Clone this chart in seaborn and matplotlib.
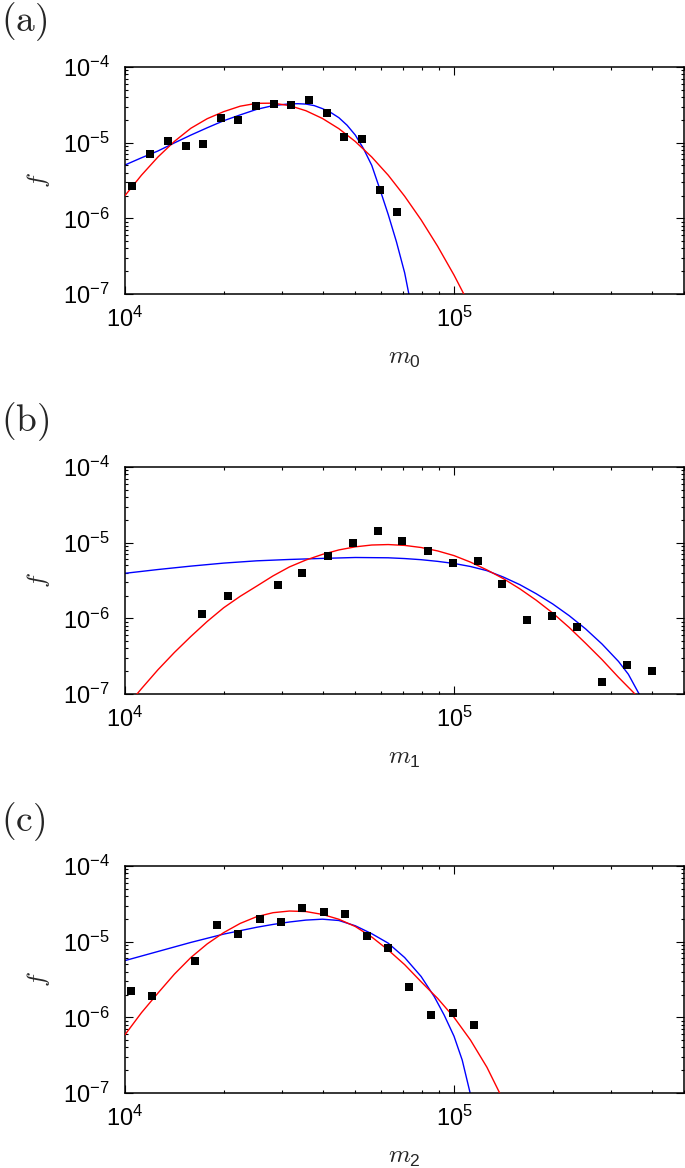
import numpy as np
import matplotlib
matplotlib.use("Agg")
import matplotlib.pyplot as plt
import seaborn as sns
from matplotlib.ticker import FixedLocator, FixedFormatter, LogLocator, NullFormatter

# ---------------- data ----------------
panel_tags = ["(a)", "(b)", "(c)"]
x_names = ["0", "1", "2"]

x_major = [1e4, 1e5]
x_major_labels = [r"$\mathregular{10^{4}}$", r"$\mathregular{10^{5}}$"]
y_major = [1e-7, 1e-6, 1e-5, 1e-4]
y_major_labels = [r"$\mathregular{10^{-7}}$", r"$\mathregular{10^{-6}}$",
                  r"$\mathregular{10^{-5}}$", r"$\mathregular{10^{-4}}$"]

# panel (a)
m0 = [1.048e4, 1.19e4, 1.352e4, 1.528e4, 1.727e4, 1.959e4, 2.21e4, 2.506e4,
      2.835e4, 3.206e4, 3.63e4, 4.11e4, 4.64e4, 5.25e4, 5.96e4, 6.73e4]
f0 = [2.67e-6, 7.0e-6, 1.04e-5, 9.1e-6, 9.7e-6, 2.12e-5, 2.0e-5, 3.05e-5,
      3.22e-5, 3.18e-5, 3.67e-5, 2.47e-5, 1.19e-5, 1.11e-5, 2.34e-6, 1.22e-6]
red0_x = [1.0e4, 1.122e4, 1.259e4, 1.413e4, 1.585e4, 1.778e4, 1.995e4, 2.239e4,
          2.512e4, 2.818e4, 3.162e4, 3.548e4, 3.981e4, 4.467e4, 5.012e4, 5.623e4,
          6.310e4, 7.079e4, 7.943e4, 8.913e4, 1.0e5, 1.122e5, 1.259e5]
red0_y = [2.0e-6, 3.715e-6, 6.46e-6, 1.040e-5, 1.549e-5, 2.075e-5, 2.570e-5, 3.034e-5,
          3.311e-5, 3.327e-5, 3.090e-5, 2.642e-5, 2.089e-5, 1.531e-5, 1.035e-5, 6.457e-6,
          3.715e-6, 1.959e-6, 9.55e-7, 4.285e-7, 1.778e-7, 6.761e-8, 2.40e-8]
blue0_x = [1.0e4, 1.122e4, 1.259e4, 1.413e4, 1.585e4, 1.778e4, 1.995e4, 2.239e4,
           2.512e4, 2.818e4, 3.162e4, 3.350e4, 3.548e4, 3.758e4, 3.981e4, 4.217e4,
           4.467e4, 4.732e4, 5.012e4, 5.309e4, 5.623e4, 5.957e4, 6.310e4, 6.683e4,
           7.079e4, 7.328e4, 7.586e4]
blue0_y = [5.07e-6, 6.31e-6, 7.76e-6, 9.93e-6, 1.259e-5, 1.574e-5, 1.950e-5, 2.328e-5,
           2.754e-5, 3.090e-5, 3.258e-5, 3.273e-5, 3.236e-5, 3.09e-5, 2.818e-5, 2.512e-5,
           2.138e-5, 1.698e-5, 1.259e-5, 8.32e-6, 5.01e-6, 2.399e-6, 1.122e-6, 4.898e-7,
           1.905e-7, 8.91e-8, 3.98e-8]

# panel (b)
m1 = [1.72e4, 2.05e4, 2.91e4, 3.46e4, 4.13e4, 4.92e4, 5.86e4, 6.97e4, 8.32e4,
      9.9e4, 1.18e5, 1.40e5, 1.67e5, 1.99e5, 2.37e5, 2.82e5, 3.35e5, 3.99e5]
f1 = [1.15e-6, 1.95e-6, 2.73e-6, 4.0e-6, 6.73e-6, 1.0e-5, 1.44e-5, 1.04e-5, 7.8e-6,
      5.43e-6, 5.73e-6, 2.84e-6, 9.5e-7, 1.09e-6, 7.6e-7, 1.42e-7, 2.39e-7, 1.99e-7]
red1_x = [1.0e4, 1.122e4, 1.259e4, 1.413e4, 1.585e4, 1.778e4, 1.995e4, 2.239e4,
          2.512e4, 2.818e4, 3.162e4, 3.548e4, 3.981e4, 4.467e4, 5.012e4, 5.623e4,
          6.310e4, 7.079e4, 7.943e4, 8.913e4, 1.0e5, 1.122e5, 1.259e5, 1.413e5,
          1.585e5, 1.778e5, 1.995e5, 2.239e5, 2.512e5, 2.818e5, 3.162e5, 3.548e5,
          3.981e5]
red1_y = [6.46e-8, 1.175e-7, 2.089e-7, 3.54e-7, 5.754e-7, 9.10e-7, 1.380e-6, 1.954e-6,
          2.661e-6, 3.639e-6, 4.786e-6, 5.902e-6, 6.998e-6, 8.017e-6, 8.81e-6, 9.31e-6,
          9.44e-6, 9.20e-6, 8.63e-6, 7.78e-6, 6.745e-6, 5.534e-6, 4.365e-6, 3.342e-6,
          2.455e-6, 1.734e-6, 1.175e-6, 7.568e-7, 4.677e-7, 2.844e-7, 1.660e-7, 1.0e-7,
          5.01e-8]
blue1_x = [1.0e4, 1.259e4, 1.585e4, 1.995e4, 2.512e4, 3.162e4, 3.981e4, 5.012e4,
           6.310e4, 7.079e4, 7.943e4, 8.913e4, 1.0e5, 1.122e5, 1.259e5, 1.413e5,
           1.585e5, 1.778e5, 1.995e5, 2.239e5, 2.512e5, 2.818e5, 3.162e5, 3.388e5,
           3.631e5, 3.802e5]
blue1_y = [3.936e-6, 4.416e-6, 4.898e-6, 5.370e-6, 5.754e-6, 5.998e-6, 6.194e-6, 6.368e-6,
           6.310e-6, 6.166e-6, 5.957e-6, 5.662e-6, 5.309e-6, 4.842e-6, 4.266e-6, 3.508e-6,
           2.786e-6, 2.113e-6, 1.549e-6, 1.084e-6, 7.244e-7, 4.571e-7, 2.692e-7, 1.820e-7,
           1.047e-7, 7.586e-8]

# panel (c)
m2 = [1.04e4, 1.207e4, 1.633e4, 1.90e4, 2.205e4, 2.564e4, 2.984e4, 3.454e4,
      4.027e4, 4.665e4, 5.437e4, 6.31e4, 7.32e4, 8.54e4, 9.91e4, 1.15e5]
f2 = [2.23e-6, 1.91e-6, 5.61e-6, 1.68e-5, 1.25e-5, 2.01e-5, 1.82e-5, 2.77e-5,
      2.49e-5, 2.32e-5, 1.2e-5, 8.26e-6, 2.49e-6, 1.06e-6, 1.15e-6, 7.83e-7]
red2_x = [1.0e4, 1.122e4, 1.259e4, 1.413e4, 1.585e4, 1.778e4, 1.995e4, 2.239e4,
          2.512e4, 2.818e4, 3.162e4, 3.548e4, 3.981e4, 4.467e4, 5.012e4, 5.623e4,
          6.310e4, 7.079e4, 7.943e4, 8.913e4, 1.0e5, 1.122e5, 1.259e5, 1.413e5]
red2_y = [5.888e-7, 1.151e-6, 2.089e-6, 3.724e-6, 6.166e-6, 9.35e-6, 1.318e-5, 1.742e-5,
          2.138e-5, 2.415e-5, 2.541e-5, 2.500e-5, 2.291e-5, 1.977e-5, 1.585e-5, 1.151e-5,
          7.762e-6, 4.966e-6, 2.951e-6, 1.782e-6, 1.0e-6, 5.01e-7, 2.188e-7, 7.94e-8]
blue2_x = [1.0e4, 1.259e4, 1.585e4, 1.995e4, 2.512e4, 2.818e4, 3.162e4, 3.548e4,
           3.981e4, 4.467e4, 5.012e4, 5.623e4, 6.310e4, 7.079e4, 7.943e4, 8.710e4,
           9.333e4, 1.0e5, 1.059e5, 1.117e5, 1.148e5]
blue2_y = [5.623e-6, 7.413e-6, 9.772e-6, 1.259e-5, 1.549e-5, 1.690e-5, 1.820e-5, 1.928e-5,
           1.982e-5, 1.905e-5, 1.622e-5, 1.274e-5, 9.55e-6, 6.166e-6, 3.467e-6, 1.875e-6,
           1.072e-6, 5.623e-7, 2.723e-7, 1.038e-7, 5.623e-8]

panels = [
    (m0, f0, red0_x, red0_y, blue0_x, blue0_y),
    (m1, f1, red1_x, red1_y, blue1_x, blue1_y),
    (m2, f2, red2_x, red2_y, blue2_x, blue2_y),
]

# ---------------- style ----------------
sns.set_style("ticks")
plt.rcParams["font.family"] = ["Liberation Sans", "DejaVu Sans"]
plt.rcParams["mathtext.fontset"] = "cm"
plt.rcParams["axes.unicode_minus"] = False

W, H = 685, 1168
fig = plt.figure(figsize=(W / 100, H / 100), dpi=100)

ax_left, ax_right = 125, 684
ax_tops = [67, 467, 866]
ax_h = 227
tag_tops = [0, 400, 800]

for i, (mx, fy, rx, ry, bx, by) in enumerate(panels):
    top = ax_tops[i]
    ax = fig.add_axes([ax_left / W, 1 - (top + ax_h) / H,
                       (ax_right - ax_left) / W, ax_h / H])
    ax.set_xscale("log")
    ax.set_yscale("log")

    sns.lineplot(x=bx, y=by, ax=ax, color="#0000ff", lw=1.0, sort=False,
                 estimator=None, zorder=2)
    sns.lineplot(x=rx, y=ry, ax=ax, color="#ff0000", lw=1.0, sort=False,
                 estimator=None, zorder=3)
    sns.scatterplot(x=mx, y=fy, ax=ax, marker="s", s=32, color="black",
                    linewidth=0, zorder=4)

    ax.set_xlim(1e4, 5e5)
    ax.set_ylim(1e-7, 1e-4)

    ax.xaxis.set_major_locator(FixedLocator(x_major))
    ax.xaxis.set_major_formatter(FixedFormatter(x_major_labels))
    ax.xaxis.set_minor_locator(LogLocator(base=10, subs=np.arange(2, 10)))
    ax.xaxis.set_minor_formatter(NullFormatter())
    ax.yaxis.set_major_locator(FixedLocator(y_major))
    ax.yaxis.set_major_formatter(FixedFormatter(y_major_labels))
    ax.yaxis.set_minor_locator(LogLocator(base=10, subs=np.arange(2, 10)))
    ax.yaxis.set_minor_formatter(NullFormatter())

    ax.tick_params(which="both", direction="in", top=True, right=True,
                   width=0.8, color="black")
    ax.tick_params(which="major", length=5.5, labelsize=17, labelcolor="black")
    ax.tick_params(which="minor", length=2.5)
    ax.tick_params(axis="x", which="major", pad=9)
    ax.tick_params(axis="y", which="major", pad=11)
    for s in ax.spines.values():
        s.set_visible(True)
        s.set_linewidth(1.1)
        s.set_color("black")

    ax.set_xlabel(r"$m_{\mathregular{" + x_names[i] + "}}$", fontsize=18, labelpad=10)
    ax.set_ylabel(r"$f$", fontsize=18, labelpad=8)
    ax.grid(False)

    fig.text(0.002, 1 - tag_tops[i] / H, r"$\mathrm{" + panel_tags[i] + "}$",
             fontsize=27, ha="left", va="top")

fig.savefig("out.png", dpi=100)
